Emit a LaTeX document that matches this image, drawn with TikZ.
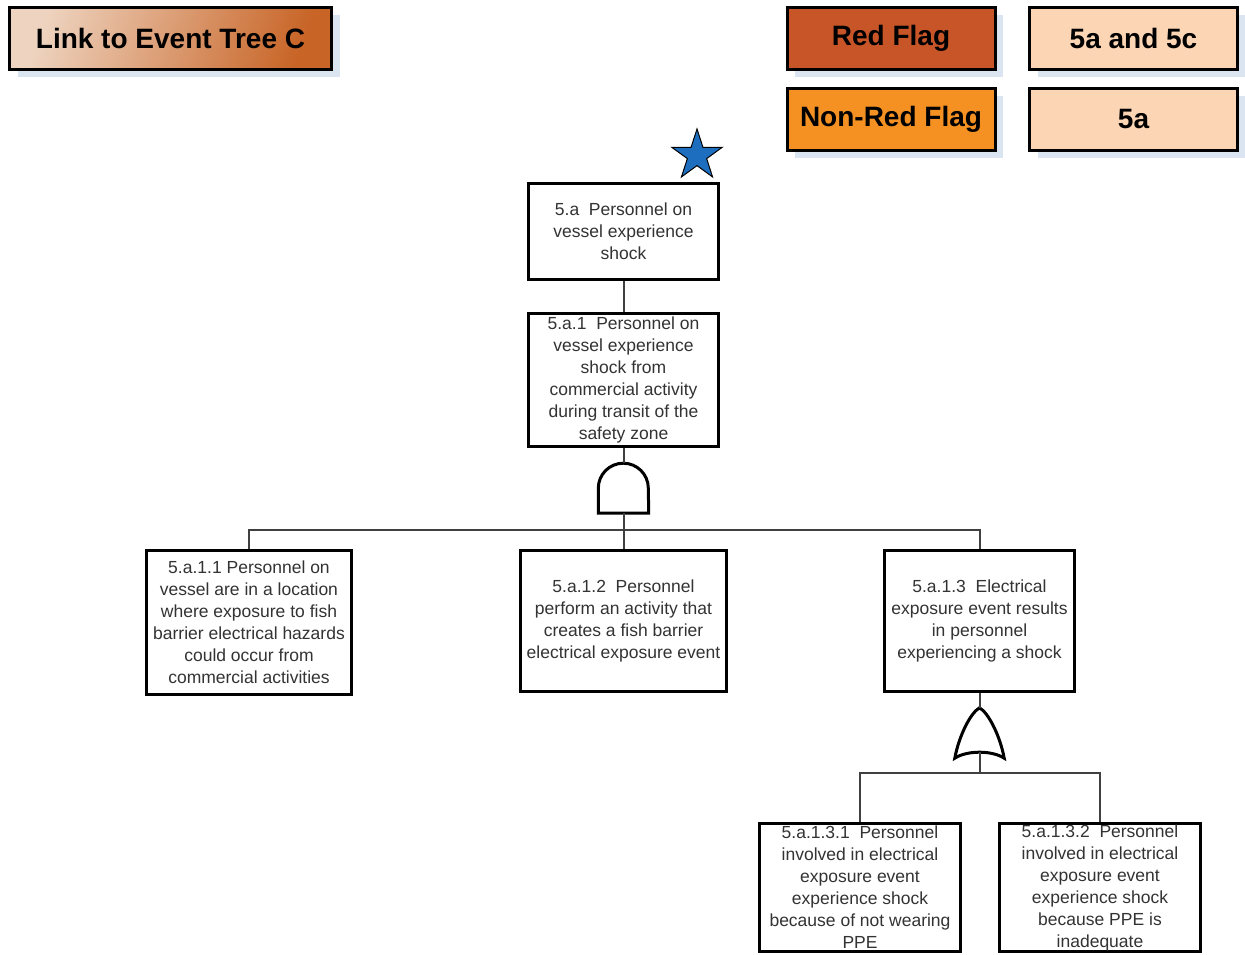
\documentclass[tikz,border=0pt]{standalone}
\usepackage{fontspec}
\setmainfont{Liberation Sans}
\usepackage{tikz}
\usetikzlibrary{shapes.geometric,shadows}
\definecolor{linklight}{RGB}{238,212,192}
\definecolor{linkmid}{RGB}{214,134,76}
\definecolor{linkdark}{RGB}{200,100,38}
\definecolor{redflag}{RGB}{200,85,40}
\definecolor{nonredflag}{RGB}{245,145,35}
\definecolor{peach}{RGB}{252,213,180}
\definecolor{shadowblue}{RGB}{219,228,241}
\definecolor{starblue}{RGB}{30,110,192}

\tikzset{
  legendbox/.style={draw, line width=3pt, inner sep=0pt, minimum width=208pt, minimum height=62pt,
    font=\fontsize{28}{32}\selectfont\bfseries,
    drop shadow={fill=shadowblue, opacity=1, shadow xshift=8pt, shadow yshift=-8pt}},
  eventbox/.style={draw, line width=3pt, fill=white, inner sep=0pt, align=center,
    text=black!80, font=\fontsize{17.5}{22}\selectfont},
  conn/.style={draw=black!75, line width=2pt},
  gate/.style={draw, line width=3pt, fill=white}
}

\begin{document}
\begin{tikzpicture}[x=1pt,y=-1pt]
\useasboundingbox (0,0) rectangle (1245,955);

% legend
\node [legendbox, minimum width=322pt, top color=linklight, middle color=linkmid, bottom color=linkdark, shading angle=70] (link) at (170.5,38.5) {Link to Event Tree C};
\node [legendbox, fill=redflag] (red) at (891,38.5) {Red Flag};
\node [legendbox, fill=nonredflag] (nonred) at (891,119.5) {Non-Red Flag};
\node [legendbox, fill=peach] (both) at (1133.5,38.5) {5a and 5c};
\node [legendbox, fill=peach] (only) at (1133.5,119.5) {5a};

% tree
\node [eventbox, minimum width=190pt, minimum height=96pt] (top) at (623.5,231.5)
{5.a~~Personnel on\\vessel experience\\shock};
\node [star, star points=5, star point ratio=2.618, minimum size=53pt, inner sep=0pt, draw, line width=1pt, fill=starblue] (mark) at (697,155.5) {};
\node [eventbox, minimum width=190pt, minimum height=133pt] (transit) at (623.5,380)
{5.a.1~~Personnel on\\vessel experience\\shock from\\commercial activity\\during transit of the\\safety zone};

\node [minimum width=50pt, minimum height=50pt, inner sep=0pt] (and1) at (623.5,488) {};
\draw [gate] (and1.south west) -- ([yshift=25pt]and1.south west) arc[start angle=180, end angle=0, radius=25pt] -- (and1.south east) -- cycle;

\node [eventbox, minimum width=205pt, minimum height=144pt] (location) at (249,622.5)
{5.a.1.1 Personnel on\\vessel are in a location\\where exposure to fish\\barrier electrical hazards\\could occur from\\commercial activities};
\node [eventbox, minimum width=206pt, minimum height=141pt] (activity) at (623.5,621)
{5.a.1.2~~Personnel\\perform an activity that\\creates a fish barrier\\electrical exposure event};
\node [eventbox, minimum width=190pt, minimum height=141pt] (exposure) at (979.5,621)
{5.a.1.3~~Electrical\\exposure event results\\in personnel\\experiencing a shock};

\node [minimum width=49pt, minimum height=50pt, inner sep=0pt] (or1) at (979.5,733) {};
\draw [gate] (or1.south west) .. controls ([shift={(4pt,22pt)}]or1.south west) and ([shift={(-9pt,-5pt)}]or1.north) .. (or1.north)
  .. controls ([shift={(9pt,-5pt)}]or1.north) and ([shift={(-4pt,22pt)}]or1.south east) .. (or1.south east)
  .. controls ([shift={(-12pt,8pt)}]or1.south east) and ([shift={(12pt,8pt)}]or1.south west) .. cycle;

\node [eventbox, minimum width=201pt, minimum height=128pt] (noppe) at (860,887.5)
{5.a.1.3.1~~Personnel\\involved in electrical\\exposure event\\experience shock\\because of not wearing\\PPE};
\node [eventbox, minimum width=201pt, minimum height=128pt] (badppe) at (1100,887.5)
{5.a.1.3.2~~Personnel\\involved in electrical\\exposure event\\experience shock\\because PPE is\\inadequate};

\coordinate (bus1) at (623.5,530);
\coordinate (bus2) at (979.5,773);

% connectors
\draw [conn] (top.south) -- (transit.north);
\draw [conn] (transit.south) -- (and1.north);
\draw [conn] (and1.south) -- (activity.north);
\draw [conn] (location.north) |- (bus1) -| (exposure.north);
\draw [conn] (exposure.south) -- (or1.north);
\draw [conn] ([yshift=6pt]or1.south) -- (bus2);
\draw [conn] (noppe.north) |- (bus2) -| (badppe.north);
\end{tikzpicture}
\end{document}
